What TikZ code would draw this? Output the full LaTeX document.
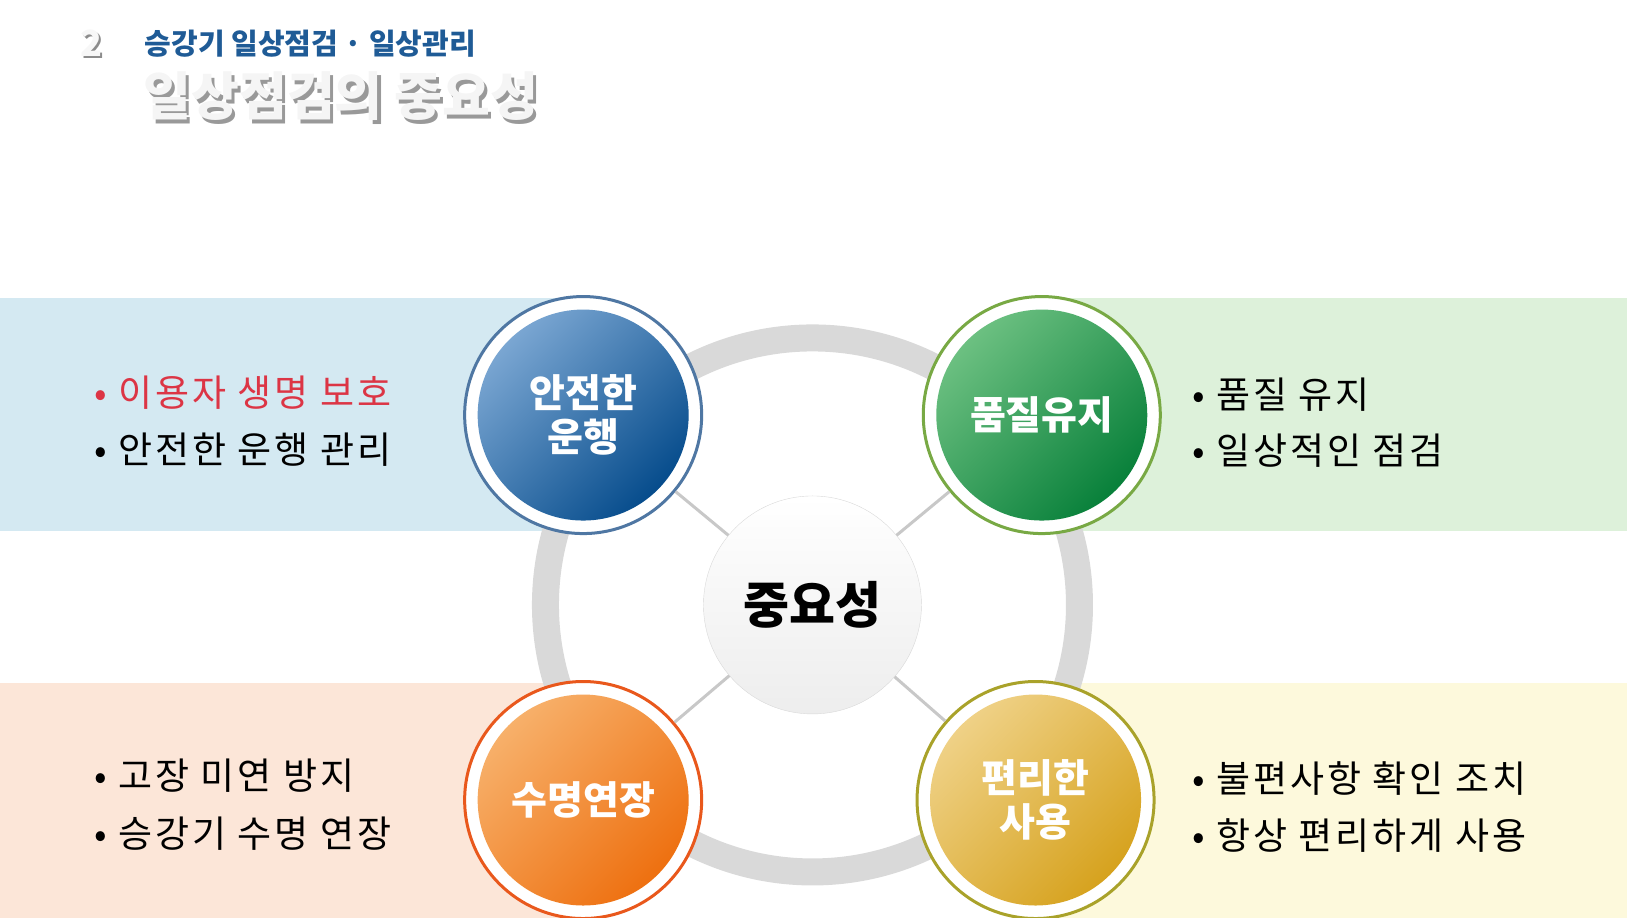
\documentclass[tikz,border=0pt]{standalone}
\usepackage{fontspec}
\setmainfont{Noto Sans CJK KR}
\newfontfamily\spaced[LetterSpace=8]{Noto Sans CJK KR}
\usetikzlibrary{positioning}

\definecolor{bandblue}{HTML}{D4E9F2}
\definecolor{bandgreen}{HTML}{DDF1DA}
\definecolor{bandorange}{HTML}{FCE6D8}
\definecolor{bandyellow}{HTML}{FDF9DC}
\definecolor{ringgray}{HTML}{D9D9D9}
\definecolor{spokegray}{HTML}{C8C8C8}
\definecolor{titleblue}{HTML}{1F5B96}
\definecolor{pointred}{HTML}{DC3545}
\definecolor{blueline}{HTML}{4F77A3}
\definecolor{bluelight}{HTML}{7AA6D2}
\definecolor{bluedark}{HTML}{064C8C}
\definecolor{greenline}{HTML}{78A944}
\definecolor{greenlight}{HTML}{6CC081}
\definecolor{greendark}{HTML}{08803A}
\definecolor{orangeline}{HTML}{E9581C}
\definecolor{orangelight}{HTML}{F7B06A}
\definecolor{orangedark}{HTML}{EE7010}
\definecolor{yellowline}{HTML}{A9A22A}
\definecolor{yellowlight}{HTML}{EFD186}
\definecolor{yellowdark}{HTML}{D6A21E}

\tikzset{ringnode/.style={circle, minimum size=237pt, line width=3pt,
        fill=white, inner sep=0pt},
    ball/.style 2 args={circle, minimum size=211pt, inner sep=0pt, text=white,
        align=center, top color=#1, middle color=#2, bottom color=#2,
        shading angle=45,
        font=\fontsize{39}{44}\selectfont\bfseries},
    centre/.style={circle, minimum size=218pt, inner sep=0pt,
        draw=ringgray, top color=white, bottom color=black!7,
        font=\fontsize{50}{56}\selectfont\bfseries},
    spoke/.style={draw=spokegray, line width=3pt},
    point/.style={anchor=west, font=\spaced\fontsize{37}{40}\selectfont},
    }

\begin{document}
\begin{tikzpicture}[x=1.0376pt,y=-1.0376pt]
\useasboundingbox (0,0) rectangle (1568,884.7);
% header
\node[anchor=west, text=black!45, font=\fontsize{36}{40}\selectfont\bfseries] (numshadow) at (76,44) {2};
\node[anchor=west, text=black!3, font=\fontsize{36}{40}\selectfont\bfseries] (num) at (74,42) {2};
\node[anchor=west, text=titleblue, font=\fontsize{29}{32}\selectfont\bfseries] (chapter) at (136,42) {승강기 일상점검 · 일상관리};
\node[anchor=west, text=black!40, font=\fontsize{52}{56}\selectfont\bfseries] (titleshadow) at (138,96) {일상점검의 중요성};
\node[anchor=west, text=black!4, font=\fontsize{52}{56}\selectfont\bfseries] (title) at (135,93) {일상점검의 중요성};
% bands
\fill[bandblue] (0,287) rectangle (562,512);
\fill[bandgreen] (1004,287) rectangle (1568,512);
\fill[bandorange] (0,658) rectangle (562,884.7);
\fill[bandyellow] (998,658) rectangle (1568,884.7);
\draw[ringgray, line width=27pt] (783,583) circle (267pt);
% circles
\node[centre] (imp) at (783,583) {중요성};
\node[ringnode, draw=blueline] (safe) at (562,400) {};
\node[ball={bluelight}{bluedark}] (safeb) at (safe) {안전한\\운행};
\node[ringnode, draw=greenline] (quality) at (1004,400) {};
\node[ball={greenlight}{greendark}] (qualityb) at (quality) {품질유지};
\node[ringnode, draw=orangeline] (life) at (562,771) {};
\node[ball={orangelight}{orangedark}] (lifeb) at (life) {수명연장};
\node[ringnode, draw=yellowline] (easy) at (998,771) {};
\node[ball={yellowlight}{yellowdark}] (easyb) at (easy) {편리한\\사용};
\foreach \n in {safe,quality,life,easy}
    \draw[spoke] (imp) -- (\n);
% points
\node[point, text=pointred] (safe1) at (88,378) {• 이용자 생명 보호};
\node[point] (safe2) at (88,433) {• 안전한 운행 관리};
\node[point] (quality1) at (1146,380) {• 품질 유지};
\node[point] (quality2) at (1146,434) {• 일상적인 점검};
\node[point] (life1) at (88,748) {• 고장 미연 방지};
\node[point] (life2) at (88,803) {• 승강기 수명 연장};
\node[point] (easy1) at (1146,750) {• 불편사항 확인 조치};
\node[point] (easy2) at (1146,805) {• 항상 편리하게 사용};
\end{tikzpicture}
\end{document}
